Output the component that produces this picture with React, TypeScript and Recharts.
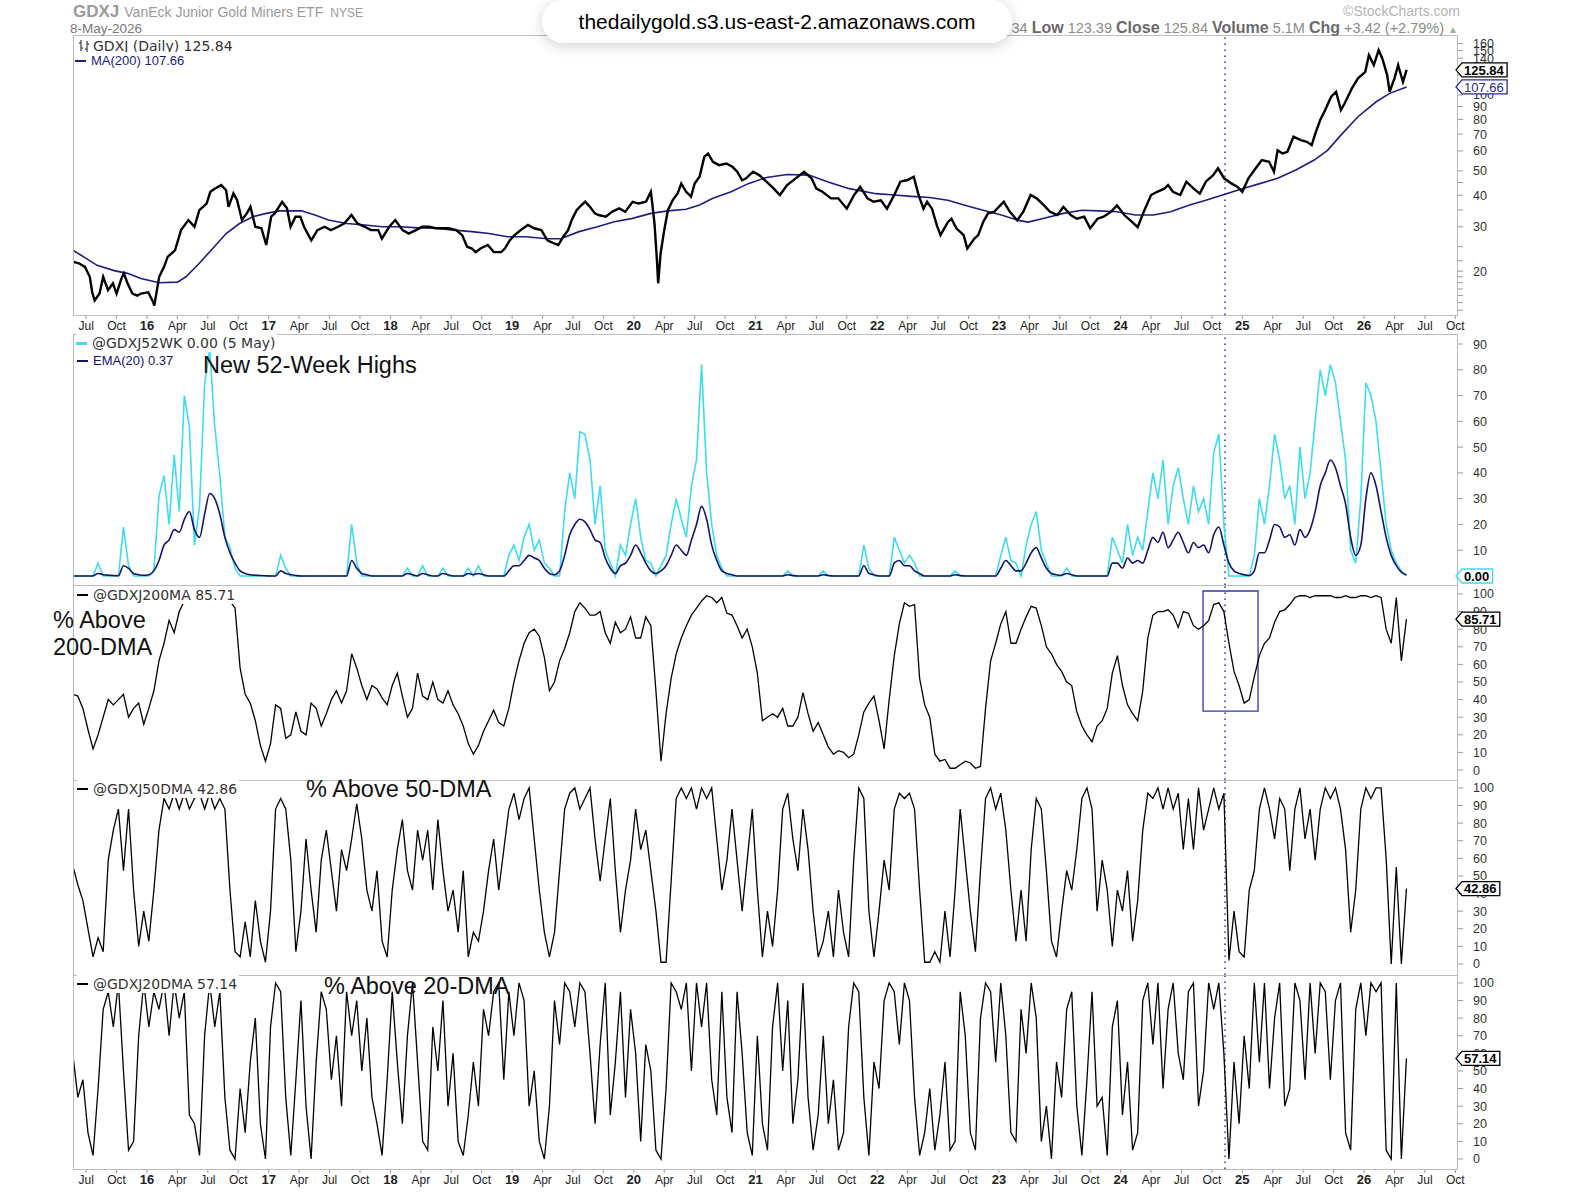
import React from "react"
import { ComposedChart, Line, XAxis, YAxis, ReferenceLine, ReferenceArea } from "recharts"

const FONT = "'Liberation Sans', Arial, sans-serif"
const LEGEND_FONT = "'DejaVu Sans', Verdana, sans-serif"

// dates are decimal years
const PRICE_DATES = [
  2015.39, 2015.44, 2015.49, 2015.53, 2015.55, 2015.57, 2015.61, 2015.64, 2015.68, 2015.72, 2015.75, 2015.79,
  2015.81, 2015.84, 2015.88, 2015.92, 2015.95, 2016.01, 2016.05, 2016.06, 2016.1, 2016.14, 2016.17, 2016.23,
  2016.28, 2016.34, 2016.39, 2016.43, 2016.49, 2016.52, 2016.56, 2016.61, 2016.65, 2016.67, 2016.71, 2016.74,
  2016.78, 2016.82, 2016.85, 2016.89, 2016.94, 2016.98, 2017.02, 2017.05, 2017.11, 2017.15, 2017.18, 2017.22,
  2017.26, 2017.29, 2017.35, 2017.4, 2017.46, 2017.51, 2017.57, 2017.62, 2017.68, 2017.73, 2017.79, 2017.84,
  2017.9, 2017.93, 2017.99, 2018.04, 2018.1, 2018.15, 2018.21, 2018.26, 2018.32, 2018.37, 2018.43, 2018.48,
  2018.54, 2018.59, 2018.63, 2018.67, 2018.7, 2018.74, 2018.8, 2018.85, 2018.91, 2018.94, 2018.98, 2019.02,
  2019.07, 2019.13, 2019.18, 2019.24, 2019.29, 2019.35, 2019.38, 2019.42, 2019.46, 2019.49, 2019.53, 2019.57,
  2019.6, 2019.64, 2019.68, 2019.71, 2019.77, 2019.82, 2019.88, 2019.93, 2019.99, 2020.04, 2020.1, 2020.14,
  2020.15, 2020.17, 2020.19, 2020.2, 2020.22, 2020.25, 2020.28, 2020.32, 2020.36, 2020.39, 2020.43, 2020.47,
  2020.5, 2020.54, 2020.58, 2020.61, 2020.65, 2020.7, 2020.76, 2020.81, 2020.85, 2020.89, 2020.92, 2020.98,
  2021.03, 2021.09, 2021.15, 2021.2, 2021.26, 2021.33, 2021.4, 2021.46, 2021.5, 2021.55, 2021.62, 2021.68,
  2021.75, 2021.81, 2021.86, 2021.92, 2021.97, 2022.03, 2022.08, 2022.14, 2022.19, 2022.25, 2022.3, 2022.34,
  2022.38, 2022.41, 2022.45, 2022.49, 2022.52, 2022.58, 2022.61, 2022.65, 2022.71, 2022.74, 2022.8, 2022.83,
  2022.87, 2022.91, 2022.96, 2023.04, 2023.09, 2023.15, 2023.2, 2023.26, 2023.31, 2023.37, 2023.42, 2023.48,
  2023.53, 2023.59, 2023.64, 2023.7, 2023.75, 2023.81, 2023.86, 2023.92, 2023.97, 2024.03, 2024.08, 2024.14,
  2024.19, 2024.25, 2024.3, 2024.36, 2024.39, 2024.43, 2024.49, 2024.54, 2024.6, 2024.65, 2024.7, 2024.76,
  2024.8, 2024.85, 2024.91, 2024.96, 2025.0, 2025.05, 2025.11, 2025.16, 2025.22, 2025.26, 2025.29, 2025.33,
  2025.37, 2025.42, 2025.48, 2025.53, 2025.57, 2025.6, 2025.64, 2025.68, 2025.73, 2025.77, 2025.81, 2025.84,
  2025.9, 2025.95, 2026.01, 2026.04, 2026.08, 2026.12, 2026.15, 2026.19, 2026.21, 2026.25, 2026.28, 2026.32,
  2026.35,
]
const PRICE_CLOSE = [
  21.8, 21.5, 20.8, 19.0, 16.5, 15.3, 16.3, 19.0, 16.8, 17.9, 16.3, 18.7,
  19.6, 17.9, 16.3, 16.0, 16.3, 16.5, 15.1, 14.6, 19.0, 20.8, 22.8, 24.2,
  29.1, 31.9, 30.0, 34.9, 37.1, 41.3, 42.6, 43.9, 41.9, 36.0, 40.7, 38.3,
  31.9, 33.9, 36.0, 30.0, 29.6, 25.4, 32.9, 33.9, 37.7, 35.5, 30.0, 32.9,
  32.9, 30.0, 26.5, 29.1, 30.0, 29.1, 30.0, 30.9, 33.4, 30.9, 30.0, 29.1,
  29.1, 26.9, 30.0, 31.9, 29.1, 28.2, 29.1, 30.0, 30.0, 29.6, 29.6, 29.6,
  29.1, 27.8, 25.0, 24.6, 23.8, 24.6, 25.4, 23.8, 23.8, 24.6, 26.5, 27.8,
  29.1, 30.5, 29.6, 29.1, 26.5, 25.7, 25.4, 27.4, 29.1, 31.9, 34.9, 36.6,
  37.7, 36.0, 33.9, 33.4, 32.9, 34.4, 35.5, 34.4, 37.7, 37.1, 37.7, 41.3,
  37.7, 30.9, 22.1, 17.9, 23.5, 29.1, 34.9, 38.3, 40.7, 44.5, 41.3, 39.5,
  44.5, 47.4, 56.9, 58.6, 54.3, 52.7, 53.5, 51.9, 49.6, 45.9, 46.6, 49.6,
  48.1, 45.3, 42.5, 40.1, 43.9, 46.7, 49.6, 46.7, 42.5, 41.3, 38.9, 38.9,
  35.4, 40.1, 43.2, 38.9, 37.7, 38.2, 35.4, 40.1, 45.3, 46.0, 47.4, 40.1,
  35.4, 37.7, 35.4, 30.4, 27.8, 31.3, 32.3, 29.6, 27.8, 24.6, 27.0, 27.8,
  31.3, 33.9, 34.4, 37.7, 34.4, 31.8, 34.4, 40.1, 38.9, 36.5, 34.4, 33.4,
  36.0, 33.4, 32.3, 32.9, 29.6, 32.3, 32.9, 34.4, 36.5, 33.4, 31.8, 29.9,
  34.4, 40.1, 41.3, 42.5, 43.9, 41.3, 40.1, 45.3, 42.5, 40.6, 45.3, 48.1,
  51.2, 46.7, 44.6, 43.2, 41.3, 46.7, 51.2, 55.2, 54.3, 49.6, 60.3, 58.6,
  59.5, 68.3, 66.2, 65.2, 63.3, 70.4, 79.6, 87.1, 98.4, 103.0, 87.1, 92.5,
  106.2, 116.4, 123.6, 144.0, 131.4, 150.8, 139.7, 120.0, 103.0, 116.4, 131.4, 112.9,
  125.84,
]
const MA200_DATES = [
  2015.39, 2015.48, 2015.59, 2015.73, 2015.84, 2015.95, 2016.1, 2016.25, 2016.32, 2016.43, 2016.54, 2016.65,
  2016.76, 2016.87, 2016.98, 2017.09, 2017.27, 2017.38, 2017.49, 2017.64, 2017.79, 2017.93, 2018.08, 2018.23,
  2018.37, 2018.52, 2018.67, 2018.81, 2018.96, 2019.11, 2019.29, 2019.4, 2019.55, 2019.7, 2019.84, 2019.99,
  2020.14, 2020.28, 2020.43, 2020.54, 2020.65, 2020.8, 2020.94, 2021.09, 2021.26, 2021.44, 2021.59, 2021.77,
  2021.99, 2022.14, 2022.28, 2022.43, 2022.58, 2022.72, 2022.87, 2023.02, 2023.16, 2023.24, 2023.38, 2023.53,
  2023.68, 2023.82, 2023.97, 2024.12, 2024.27, 2024.41, 2024.56, 2024.7, 2024.85, 2025.0, 2025.15, 2025.29,
  2025.44, 2025.59, 2025.7, 2025.81, 2025.95, 2026.1, 2026.21, 2026.35,
]
const MA200 = [
  24.2, 22.8, 21.1, 20.1, 19.6, 18.7, 18.0, 18.1, 19.0, 21.5, 24.6, 28.2,
  30.9, 32.9, 33.9, 34.7, 34.7, 33.4, 31.9, 30.9, 30.5, 30.0, 30.0, 29.7,
  29.6, 29.1, 28.7, 28.2, 27.4, 27.4, 26.9, 26.9, 28.7, 30.0, 31.4, 32.4,
  33.9, 34.7, 35.2, 36.6, 38.9, 41.3, 44.5, 47.1, 48.4, 48.1, 45.3, 42.5,
  40.6, 40.1, 39.6, 39.2, 38.2, 36.5, 34.9, 33.4, 31.8, 31.3, 32.5, 33.9,
  34.9, 34.7, 34.4, 33.4, 33.4, 34.4, 36.5, 38.2, 40.3, 42.5, 44.6, 46.7,
  50.4, 55.2, 60.3, 69.3, 82.0, 94.0, 101.5, 107.66,
]

// breadth series: two readings a month from mid-May 2015
const OSC_START = 2015.39
const OSC_STEP = 1 / 24

const NEW_HIGHS = [
  0, 0, 0, 0, 0, 5, 0, 0, 0, 0, 19, 4,
  0, 0, 0, 0, 2, 31, 39, 20, 47, 25, 70, 58,
  12, 27, 74, 88, 58, 39, 15, 11, 3, 0, 0, 0,
  0, 0, 0, 0, 0, 8, 3, 0, 0, 0, 0, 0,
  0, 0, 0, 0, 0, 0, 0, 20, 5, 0, 0, 0,
  0, 0, 0, 0, 0, 0, 3, 0, 0, 4, 0, 0,
  0, 3, 0, 0, 0, 0, 3, 0, 4, 0, 0, 0,
  0, 0, 8, 12, 6, 15, 20, 10, 14, 5, 3, 0,
  0, 25, 40, 30, 56, 55, 45, 20, 35, 10, 5, 0,
  12, 8, 20, 30, 15, 6, 5, 0, 4, 8, 20, 30,
  22, 15, 35, 45, 82, 40, 20, 8, 3, 0, 0, 0,
  0, 0, 0, 0, 0, 0, 0, 0, 0, 2, 0, 0,
  0, 0, 0, 0, 2, 0, 0, 0, 0, 0, 0, 0,
  12, 3, 0, 0, 0, 0, 15, 10, 5, 8, 5, 0,
  0, 0, 0, 0, 0, 0, 2, 0, 0, 0, 0, 0,
  0, 0, 0, 8, 15, 6, 5, 0, 12, 20, 25, 10,
  5, 0, 0, 0, 3, 0, 0, 0, 0, 0, 0, 0,
  0, 15, 10, 5, 20, 8, 15, 10, 25, 40, 30, 45,
  20, 35, 42, 30, 20, 35, 25, 30, 20, 48, 55, 20,
  0, 0, 0, 0, 0, 8, 30, 20, 35, 55, 45, 30,
  35, 20, 50, 30, 40, 60, 80, 70, 82, 75, 60, 45,
  10, 5, 30, 75, 70, 60, 40, 20, 10, 5, 2, 0,
]
const NEW_HIGHS_EMA = [
  0, 0, 0, 0, 0, 1, 0.5, 0.3, 0.2, 0.1, 4, 3,
  1, 0.5, 0.3, 0.5, 2, 6, 12, 14, 18, 17, 22, 25,
  18, 15, 24, 32, 30, 24, 15, 9, 5, 2, 1, 0.5,
  0.3, 0.2, 0.1, 0, 0, 2, 1, 0.5, 0.2, 0, 0, 0,
  0, 0, 0, 0, 0, 0, 0, 6, 3, 1, 0.5, 0,
  0, 0, 0, 0, 0, 0, 1, 0.5, 0, 1, 0.5, 0,
  0, 1, 0.5, 0, 0, 0, 1, 0.5, 1, 0.5, 0, 0,
  0, 0, 2, 4, 4, 6, 8, 7, 6, 3, 1, 0.5,
  2, 8, 16, 20, 22, 21, 18, 14, 13, 7, 3, 1,
  4, 5, 8, 12, 9, 5, 2, 1, 2, 4, 8, 12,
  10, 8, 14, 20, 27, 22, 12, 6, 2, 1, 0.5, 0,
  0, 0, 0, 0, 0, 0, 0, 0, 0, 0.5, 0.2, 0,
  0, 0, 0, 0, 0.5, 0.2, 0, 0, 0, 0, 0, 0,
  4, 1, 0.5, 0, 0, 0, 5, 6, 4, 4, 2, 1,
  0, 0, 0, 0, 0, 0, 0.5, 0.2, 0, 0, 0, 0,
  0, 0, 0, 3, 6, 4, 2, 2, 5, 9, 11, 7,
  3, 1, 0.5, 0.3, 1, 0.5, 0, 0, 0, 0, 0, 0,
  0, 5, 5, 3, 7, 5, 6, 5, 10, 15, 13, 17,
  11, 14, 17, 13, 9, 13, 11, 12, 9, 16, 19, 12,
  5, 2, 1, 0.5, 0.2, 2, 9, 9, 14, 20, 19, 15,
  16, 12, 18, 15, 18, 25, 35, 40, 45, 42, 35, 28,
  15, 8, 12, 30, 40, 35, 25, 15, 8, 4, 1.5, 0.37,
]
const PCT_ABOVE_200 = [
  43, 42, 35, 23, 12, 20, 30, 40, 37, 40, 43, 30,
  35, 38, 26, 35, 45, 62, 72, 85, 78, 90, 96, 99,
  100, 100, 100, 100, 100, 100, 100, 96, 92, 58, 43, 38,
  28, 14, 5, 15, 37, 35, 18, 20, 33, 22, 20, 38,
  35, 25, 32, 40, 45, 38, 45, 66, 58, 48, 40, 48,
  46, 41, 37, 48, 55, 42, 30, 35, 55, 42, 40, 50,
  40, 38, 45, 37, 32, 25, 15, 9, 14, 22, 28, 34,
  27, 25, 35, 50, 62, 72, 78, 80, 76, 64, 45, 50,
  62, 69, 78, 90, 95, 92, 88, 88, 90, 78, 72, 84,
  78, 80, 87, 75, 75, 87, 82, 45, 5, 32, 52, 66,
  75, 82, 88, 92, 96, 99, 98, 95, 98, 89, 88, 82,
  75, 80, 70, 55, 28, 30, 32, 30, 35, 25, 25, 30,
  44, 32, 22, 27, 20, 13, 9, 11, 10, 7, 9, 20,
  33, 38, 42, 28, 12, 40, 65, 83, 95, 93, 94, 52,
  37, 30, 9, 5, 6, 1, 1, 3, 5, 4, 1, 2,
  35, 62, 72, 83, 90, 72, 72, 80, 87, 93, 92, 82,
  70, 66, 60, 56, 50, 48, 33, 25, 20, 16, 25, 28,
  35, 55, 65, 48, 37, 32, 28, 45, 75, 88, 90, 90,
  91, 88, 81, 90, 89, 82, 80, 82, 85, 94, 95, 90,
  72, 56, 48, 38, 40, 53, 65, 72, 75, 84, 90, 91,
  94, 98, 99, 99, 98, 99, 99, 99, 99, 98, 98, 99,
  98, 98, 99, 99, 98, 99, 98, 80, 72, 98, 62, 85.71,
]
const PCT_ABOVE_50 = [
  56, 45, 36, 20, 4, 15, 7, 59, 76, 88, 53, 88,
  42, 10, 30, 13, 42, 76, 94, 88, 97, 88, 97, 88,
  94, 97, 88, 97, 88, 94, 88, 42, 7, 4, 24, 4,
  36, 13, 1, 30, 88, 94, 88, 59, 7, 30, 71, 42,
  18, 59, 76, 53, 30, 65, 53, 71, 91, 71, 42, 30,
  53, 13, 4, 42, 65, 82, 53, 42, 76, 59, 76, 42,
  82, 53, 30, 42, 18, 53, 4, 18, 13, 30, 53, 71,
  42, 65, 88, 97, 82, 94, 100, 71, 42, 18, 4, 18,
  53, 88, 97, 100, 88, 94, 100, 71, 47, 71, 94, 53,
  18, 42, 59, 88, 65, 76, 53, 30, 1, 1, 47, 94,
  100, 94, 100, 88, 100, 94, 100, 71, 42, 59, 88, 59,
  30, 59, 88, 42, 4, 30, 10, 42, 88, 97, 71, 53,
  88, 65, 30, 4, 13, 30, 4, 42, 18, 4, 59, 100,
  94, 30, 4, 30, 59, 42, 88, 97, 94, 97, 88, 42,
  1, 1, 7, 1, 30, 4, 42, 88, 59, 30, 7, 53,
  94, 100, 88, 97, 76, 42, 13, 42, 13, 65, 94, 88,
  53, 13, 4, 30, 53, 42, 65, 94, 100, 88, 30, 59,
  42, 10, 42, 30, 53, 13, 36, 76, 97, 94, 100, 88,
  100, 88, 97, 65, 94, 65, 100, 76, 88, 100, 88, 97,
  2, 30, 7, 4, 42, 53, 88, 100, 88, 71, 94, 88,
  53, 88, 100, 71, 88, 59, 88, 100, 94, 100, 88, 65,
  18, 42, 88, 100, 94, 100, 100, 60, 0, 55, 0, 42.86,
]
const PCT_ABOVE_20 = [
  60, 35, 45, 15, 2, 40, 85, 95, 75, 100, 50, 5,
  10, 70, 100, 75, 95, 85, 100, 70, 100, 80, 95, 25,
  20, 2, 70, 100, 75, 95, 35, 5, 0, 40, 15, 55,
  80, 20, 0, 75, 100, 95, 35, 2, 45, 90, 30, 0,
  55, 95, 85, 45, 70, 30, 95, 70, 90, 50, 80, 35,
  20, 2, 45, 95, 55, 20, 70, 100, 55, 10, 5, 75,
  50, 90, 30, 60, 10, 2, 25, 55, 30, 85, 70, 95,
  100, 45, 95, 70, 100, 90, 30, 50, 10, 0, 30, 90,
  65, 100, 95, 75, 100, 95, 60, 20, 65, 100, 25, 55,
  95, 35, 85, 60, 10, 65, 50, 5, 0, 40, 100, 95,
  85, 100, 50, 100, 75, 100, 45, 25, 95, 35, 15, 95,
  60, 15, 2, 70, 20, 5, 75, 100, 50, 90, 20, 45,
  100, 35, 5, 25, 70, 20, 45, 5, 15, 75, 100, 95,
  35, 2, 55, 40, 90, 100, 95, 65, 100, 90, 35, 2,
  15, 40, 5, 25, 55, 5, 10, 95, 70, 15, 5, 80,
  100, 95, 55, 100, 70, 15, 10, 85, 60, 100, 80, 10,
  30, 0, 55, 35, 85, 95, 30, 2, 45, 95, 30, 35,
  2, 75, 90, 25, 55, 5, 15, 90, 100, 65, 100, 40,
  85, 100, 60, 45, 95, 100, 30, 50, 100, 85, 100, 60,
  0, 55, 20, 70, 40, 100, 55, 100, 40, 80, 100, 30,
  40, 100, 90, 45, 100, 60, 100, 95, 45, 90, 100, 15,
  5, 85, 100, 70, 100, 95, 100, 5, 0, 100, 0, 57.14,
]

const LAST_CLOSE = 125.84
const LAST_MA = 107.66
const LAST_HIGHS = 0
const LAST_EMA = 0.37

const PRICE_TICKS = [14, 15, 16, 17, 18, 19, 20, 22, 25, 30, 35, 40, 45, 50, 60, 70, 80, 90, 100, 110, 120, 130, 140, 150, 160]
const PRICE_LABELS = [20, 30, 40, 50, 60, 70, 80, 90, 100, 140, 150, 160]
const HIGHS_TICKS = [0, 10, 20, 30, 40, 50, 60, 70, 80, 90]
const PCT_TICKS = [0, 10, 20, 30, 40, 50, 60, 70, 80, 90, 100]

// chart frame
const X_DOMAIN: [number, number] = [2015.392, 2026.772]
const MARK_DATE = 2024.858
const BOX = { x1: 2024.677, x2: 2025.129, y1: 33.5, y2: 101.7 }
const W = 1586
const PLOT_LEFT = 73
const AXIS_W = 128
const PLOT_W = W - PLOT_LEFT - AXIS_W
const MARGIN = { top: 0, right: 0, bottom: 0, left: PLOT_LEFT }

const X_TICKS: number[] = []
for (let y = 2015; y <= 2026; y++) {
  for (const q of [0, 0.25, 0.5, 0.75]) {
    if (y + q >= X_DOMAIN[0] && y + q <= X_DOMAIN[1]) X_TICKS.push(y + q)
  }
}

const priceRows = PRICE_DATES.map((t, i) => ({ t, v: PRICE_CLOSE[i] }))
const maRows = MA200_DATES.map((t, i) => ({ t, v: MA200[i] }))
const oscDate = (i: number) => OSC_START + i * OSC_STEP
const highsRows = NEW_HIGHS.map((v, i) => ({ t: oscDate(i), hi: v, ema: NEW_HIGHS_EMA[i] }))
const rows200 = PCT_ABOVE_200.map((v, i) => ({ t: oscDate(i), v }))
const rows50 = PCT_ABOVE_50.map((v, i) => ({ t: oscDate(i), v }))
const rows20 = PCT_ABOVE_20.map((v, i) => ({ t: oscDate(i), v }))

function XTick({ x, y, payload }: any) {
  const v = payload.value
  const yr = Math.floor(v + 1e-6)
  const q = Math.round((v - yr) * 4)
  const label = q === 0 ? String(yr).slice(2) : ["", "Apr", "Jul", "Oct"][q]
  return (
    <text x={x} y={y} dy={9} textAnchor="middle" fontSize={q === 0 ? 13 : 12} fontWeight={q === 0 ? 700 : 400}
      fill="#222" fontFamily={FONT}>
      {label}
    </text>
  )
}

function YTick({ x, y, payload, labels }: any) {
  if (labels && !labels.includes(payload.value)) return null
  return (
    <text x={x} y={y} dy={4.5} fontSize={12.5} fill="#333" fontFamily={FONT}>
      {payload.value}
    </text>
  )
}

function ValueTag(props: any) {
  const vb = props.viewBox || {}
  const { text, color, textColor, bold } = props
  const x = vb.x + vb.width - 2
  const y = vb.y
  const digits = text.replace(".", "").length
  const w = 11 + digits * 7.3 + (text.includes(".") ? 3.6 : 0)
  const h = 14
  const pts = `${x},${y} ${x + 6},${y - h / 2} ${x + w},${y - h / 2} ${x + w},${y + h / 2} ${x + 6},${y + h / 2}`
  return (
    <g>
      <polygon points={pts} fill="#fff" stroke={color} strokeWidth={1.3} />
      <text x={x + 8} y={y} dy={4.8} fontSize={13} fontWeight={bold ? 700 : 400} fill={textColor || color}
        fontFamily={FONT}>
        {text}
      </text>
    </g>
  )
}

function Frame({ top, height }: { top: number; height: number }) {
  return (
    <div style={{
      position: "absolute", left: PLOT_LEFT, top, width: PLOT_W, height,
      border: "1px solid #bcbcbc", boxSizing: "border-box", pointerEvents: "none",
    }} />
  )
}

function Legend({ top, left, color, text, font = LEGEND_FONT, size = 14, textColor = "#333", thick = 2.5 }: any) {
  return (
    <div style={{
      position: "absolute", top: top - 9, left, height: 18, lineHeight: "18px", display: "flex",
      alignItems: "center", background: "#fff", paddingRight: 2, whiteSpace: "nowrap",
    }}>
      <span style={{ display: "inline-block", width: 11, height: thick, background: color, marginRight: 5 }} />
      <span style={{ fontFamily: font, fontSize: size, color: textColor }}>{text}</span>
    </div>
  )
}

function BigLabel({ top, left, text }: { top: number; left: number; text: string }) {
  return (
    <div style={{
      position: "absolute", top: top - 13, left, fontFamily: FONT, fontSize: 23.5, lineHeight: "26px",
      color: "#111", whiteSpace: "nowrap",
    }}>
      {text}
    </div>
  )
}

const xAxisProps = {
  type: "number" as const, dataKey: "t", domain: X_DOMAIN, ticks: X_TICKS, allowDataOverflow: true,
  interval: 0 as const, tickSize: 4, tickMargin: 2, axisLine: false, tickLine: { stroke: "#999" },
}
const markLine = <ReferenceLine x={MARK_DATE} stroke="#3b3bbf" strokeWidth={1.6} strokeDasharray="1.6 4.4" />

// last-value tags drawn in a transparent chart laid over each panel so they sit above the axis labels
function TagLayer({ top, height, domain, scale, xHeight = 0, data, tags }: any) {
  return (
    <div style={{ position: "absolute", left: 0, top, pointerEvents: "none" }}>
      <ComposedChart width={W} height={height} margin={MARGIN} data={data}>
        <XAxis {...xAxisProps} hide={!xHeight} height={xHeight} tick={false} tickLine={false} />
        <YAxis orientation="right" width={AXIS_W} type="number" scale={scale} domain={domain} allowDataOverflow
          tick={false} tickLine={false} axisLine={false} />
        <Line dataKey="v" stroke="none" dot={false} isAnimationActive={false} />
        {tags.map((tg: any) => (
          <ReferenceLine key={tg.text} y={tg.value} stroke="none"
            label={<ValueTag text={tg.text} color={tg.color} textColor={tg.textColor} bold={tg.bold} />} />
        ))}
      </ComposedChart>
    </div>
  )
}

function PctPanel({ top, height, data, domain, showX = false, children }: any) {
  return (
    <div style={{ position: "absolute", left: 0, top }}>
      <ComposedChart width={W} height={height} margin={MARGIN} data={data}>
        <XAxis {...xAxisProps} hide={!showX} height={showX ? 24 : 0} tick={<XTick />} />
        <YAxis orientation="right" width={AXIS_W} type="number" domain={domain} allowDataOverflow
          ticks={PCT_TICKS} interval={0} tickSize={5} tickMargin={10} axisLine={false}
          tickLine={{ stroke: "#999" }} tick={<YTick />} />
        {markLine}
        {children}
        <Line type="linear" dataKey="v" stroke="#000" strokeWidth={1.3} dot={false} isAnimationActive={false} />
      </ComposedChart>
    </div>
  )
}

const hdrLabel = { color: "#6a6a6a", fontSize: 16, fontWeight: 700 }

function Header() {
  return (
    <>
      <div style={{ position: "absolute", left: 73, top: 2, whiteSpace: "nowrap", color: "#9a9a9a" }}>
        <span style={{ fontSize: 17, fontWeight: 700 }}>GDXJ</span>
        <span style={{ fontSize: 14, marginLeft: 5 }}>VanEck Junior Gold Miners ETF</span>
        <span style={{ fontSize: 12, marginLeft: 7 }}>NYSE</span>
      </div>
      <div style={{ position: "absolute", left: 70, top: 21, fontSize: 13.5, color: "#777" }}>8-May-2026</div>
      <div style={{ position: "absolute", right: W - 1460, top: 3, fontSize: 14, color: "#b4b4b4" }}>
        ©StockCharts.com
      </div>
      {/* the left part of this line sits under the address pill */}
      <div style={{ position: "absolute", right: W - 1458, top: 19, fontSize: 14.5, color: "#8a8a8a", whiteSpace: "nowrap" }}>
        34 <b style={hdrLabel}>Low</b> 123.39 <b style={hdrLabel}>Close</b> 125.84{" "}
        <b style={hdrLabel}>Volume</b> 5.1M <b style={hdrLabel}>Chg</b> +3.42 (+2.79%){" "}
        <span style={{ color: "#9ab09a", fontSize: 10 }}>▲</span>
      </div>
      <div style={{
        position: "absolute", left: 542, top: 0, width: 470, height: 43, borderRadius: 21, background: "#fff",
        boxShadow: "0 3px 14px rgba(0,0,0,0.18)", display: "flex", alignItems: "center", justifyContent: "center",
        fontFamily: FONT, fontSize: 21, color: "#000",
      }}>
        thedailygold.s3.us-east-2.amazonaws.com
      </div>
    </>
  )
}

export default function App() {
  return (
    <div style={{
      position: "absolute", left: 0, top: 0, width: W, height: 1200, background: "#fff",
      fontFamily: FONT, overflow: "hidden",
    }}>
      {/* price panel */}
      <div style={{ position: "absolute", left: 0, top: 35 }}>
        <ComposedChart width={W} height={302} margin={MARGIN}>
          <XAxis {...xAxisProps} height={22} tick={<XTick />} />
          <YAxis orientation="right" width={AXIS_W} type="number" scale="log" domain={[13.4, 173]} allowDataOverflow
            ticks={PRICE_TICKS} interval={0} tickSize={5} tickMargin={10} axisLine={false}
            tickLine={{ stroke: "#999" }} tick={<YTick labels={PRICE_LABELS} />} />
          {markLine}
          <Line data={maRows} type="linear" dataKey="v" stroke="#1d1d82" strokeWidth={1.6} dot={false} isAnimationActive={false} />
          <Line data={priceRows} type="linear" dataKey="v" stroke="#000" strokeWidth={2.4} dot={false} isAnimationActive={false} />
        </ComposedChart>
      </div>

      {/* new 52-week highs */}
      <div style={{ position: "absolute", left: 0, top: 334 }}>
        <ComposedChart width={W} height={251} margin={MARGIN} data={highsRows}>
          <XAxis {...xAxisProps} hide height={0} />
          <YAxis orientation="right" width={AXIS_W} type="number" domain={[-3.49, 93.88]} allowDataOverflow
            ticks={HIGHS_TICKS} interval={0} tickSize={5} tickMargin={10} axisLine={false}
            tickLine={{ stroke: "#999" }} tick={<YTick labels={HIGHS_TICKS.slice(1)} />} />
          {markLine}
          <Line type="linear" dataKey="hi" stroke="#3fdcef" strokeWidth={1.6} dot={false} isAnimationActive={false} />
          <Line type="monotone" dataKey="ema" stroke="#14146e" strokeWidth={1.6} dot={false} isAnimationActive={false} />
        </ComposedChart>
      </div>

      <PctPanel top={585} height={195} data={rows200} domain={[-5.68, 105.1]}>
        <ReferenceArea x1={BOX.x1} x2={BOX.x2} y1={BOX.y1} y2={BOX.y2} fill="none" fillOpacity={0}
          stroke="#3434a8" strokeWidth={1.3} />
      </PctPanel>
      <PctPanel top={780} height={195} data={rows50} domain={[-6.25, 104.5]} />
      <PctPanel top={975} height={218} data={rows20} domain={[-5.68, 104.5]} showX />

      <Frame top={35} height={281} />
      <Frame top={334} height={252} />
      <Frame top={585} height={196} />
      <Frame top={780} height={196} />
      <Frame top={975} height={195} />

      <TagLayer top={35} height={302} xHeight={22} domain={[13.4, 173]} scale="log" data={priceRows}
        tags={[
          { value: LAST_MA, text: LAST_MA.toFixed(2), color: "#2a2a90" },
          { value: LAST_CLOSE, text: LAST_CLOSE.toFixed(2), color: "#000", bold: true },
        ]} />
      <TagLayer top={334} height={251} domain={[-3.49, 93.88]} scale="linear" data={rows200}
        tags={[{ value: LAST_HIGHS, text: LAST_HIGHS.toFixed(2), color: "#3fdcef", textColor: "#000", bold: true }]} />
      <TagLayer top={585} height={195} domain={[-5.68, 105.1]} scale="linear" data={rows200}
        tags={[{ value: 85.71, text: "85.71", color: "#000", bold: true }]} />
      <TagLayer top={780} height={195} domain={[-6.25, 104.5]} scale="linear" data={rows50}
        tags={[{ value: 42.86, text: "42.86", color: "#000", bold: true }]} />
      <TagLayer top={975} height={218} xHeight={24} domain={[-5.68, 104.5]} scale="linear" data={rows20}
        tags={[{ value: 57.14, text: "57.14", color: "#000", bold: true }]} />

      <Header />

      {/* legends */}
      <div style={{ position: "absolute", left: 78, top: 37, height: 18, display: "flex", alignItems: "center", background: "#fff" }}>
        <svg width={12} height={14}>
          <path d="M3 1 V12 M1 4 H3 M3 9 H5 M9 2 V13 M7 10 H9 M9 5 H11" stroke="#555" strokeWidth={1.4} fill="none" />
        </svg>
        <span style={{ fontFamily: LEGEND_FONT, fontSize: 14, color: "#333", marginLeft: 3 }}>GDXJ (Daily) 125.84</span>
      </div>
      <Legend top={61} left={75} color="#1d1d82" text={`MA(200) ${LAST_MA}`} font={FONT} size={13} textColor="#1d1d82" thick={2} />
      <Legend top={343} left={76} color="#3fdcef" text="@GDXJ52WK 0.00 (5 May)" thick={3} />
      <Legend top={361} left={77} color="#14146e" text={`EMA(20) ${LAST_EMA}`} font={FONT} size={13} textColor="#14146e" thick={2.5} />
      <Legend top={595} left={77} color="#000" text="@GDXJ200MA 85.71" />
      <Legend top={789} left={77} color="#000" text="@GDXJ50DMA 42.86" />
      <Legend top={984} left={77} color="#000" text="@GDXJ20DMA 57.14" />

      <BigLabel top={365} left={203} text="New 52-Week Highs" />
      <BigLabel top={620} left={53} text="% Above" />
      <BigLabel top={647} left={53} text="200-DMA" />
      <BigLabel top={789} left={306} text="% Above 50-DMA" />
      <BigLabel top={986} left={324} text="% Above 20-DMA" />
    </div>
  )
}
